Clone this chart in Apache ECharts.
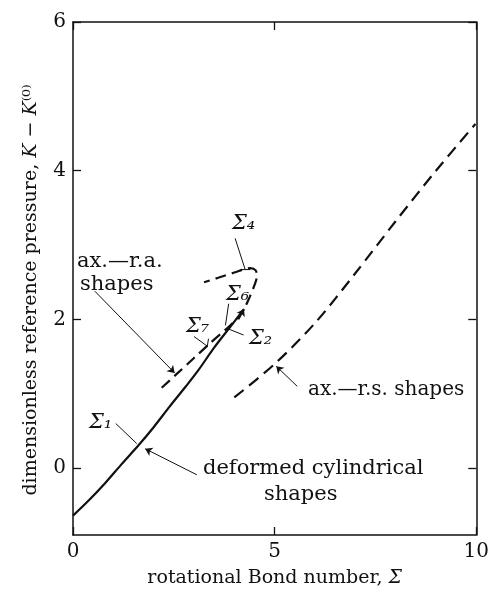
<!DOCTYPE html>
<html>
<head>
<meta charset="utf-8">
<script src="https://cdn.jsdelivr.net/npm/echarts@6/dist/echarts.min.js"></script>
<style>
  html, body { margin: 0; padding: 0; background: #fff; }
  #chart { width: 492px; height: 593px; }
</style>
</head>
<body>
<div id="chart"></div>
<script>
// Tick values
const xTicks = [0, 5, 10];
const yTicks = [0, 2, 4, 6];

// Deformed cylindrical shapes (solid branch), [Σ, K − K(0)]
const cylSigma = [0, 0.4, 0.8, 1.2, 1.63, 2.0, 2.4, 2.8, 3.1, 3.5, 3.9, 4.23];
const cylK     = [-0.64, -0.43, -0.2, 0.05, 0.31, 0.55, 0.83, 1.1, 1.31, 1.62, 1.9, 2.13];

// Axisymmetric – rotationally asymmetric shapes (dashed loop)
const raSigma = [2.2, 2.6, 3.0, 3.4, 3.82, 4.05, 4.23, 4.38, 4.5, 4.56, 4.53, 4.4, 4.0, 3.6, 3.25];
const raK     = [1.08, 1.28, 1.48, 1.68, 1.88, 2.0, 2.13, 2.3, 2.46, 2.58, 2.66, 2.69, 2.63, 2.56, 2.5];

// Axisymmetric – rotationally symmetric shapes (dashed right branch)
const rsSigma = [4.0, 5.0, 6.0, 7.0, 8.0, 9.0, 9.98];
const rsK     = [0.95, 1.4, 1.95, 2.62, 3.32, 4.0, 4.63];

const zip = (a, b) => a.map((v, i) => [v, b[i]]);

const FONT = '"DejaVu Serif", "Liberation Serif", serif';
const INK = '#111';

const chart = echarts.init(document.getElementById('chart'), null, { renderer: 'canvas' });

const tickStyle = { inside: true, length: 8, lineStyle: { color: INK, width: 1.3 } };
const axisLineStyle = { show: true, onZero: false, lineStyle: { color: INK, width: 1.5 } };
const tickLabel = { color: INK, fontFamily: FONT, fontSize: 20 };

chart.setOption({
  backgroundColor: '#fff',
  animation: false,
  grid: { left: 73, right: 8, top: 22, bottom: 50 },
  xAxis: [
    {
      type: 'value', min: 0, max: 10, position: 'bottom',
      axisLine: axisLineStyle,
      axisTick: Object.assign({ customValues: xTicks }, tickStyle),
      axisLabel: Object.assign({ customValues: xTicks, margin: 7 }, tickLabel),
      splitLine: { show: false },
      name: 'rotational Bond number, {i|Σ}',
      nameLocation: 'middle', nameGap: 34,
      nameTextStyle: { color: INK, fontFamily: FONT, fontSize: 19,
        rich: { i: { fontStyle: 'italic', fontFamily: FONT, fontSize: 19, color: INK } } }
    },
    {
      type: 'value', min: 0, max: 10, position: 'top',
      axisLine: axisLineStyle,
      axisTick: Object.assign({ customValues: xTicks }, tickStyle),
      axisLabel: { show: false },
      splitLine: { show: false }
    }
  ],
  yAxis: [
    {
      type: 'value', min: -0.9, max: 6, position: 'left',
      axisLine: axisLineStyle,
      axisTick: Object.assign({ customValues: yTicks }, tickStyle),
      axisLabel: Object.assign({ customValues: yTicks, margin: 7 }, tickLabel),
      splitLine: { show: false }
    },
    {
      type: 'value', min: -0.9, max: 6, position: 'right',
      axisLine: axisLineStyle,
      axisTick: Object.assign({ customValues: yTicks }, tickStyle),
      axisLabel: { show: false },
      splitLine: { show: false }
    }
  ],
  series: [
    {
      name: 'deformed cylindrical shapes', type: 'line', data: zip(cylSigma, cylK),
      smooth: 0.3, showSymbol: false, lineStyle: { color: INK, width: 2.2 }
    },
    {
      name: 'ax.–r.a. shapes', type: 'line', data: zip(raSigma, raK),
      smooth: 0.3, showSymbol: false, lineStyle: { color: INK, width: 2.2, type: [11, 6] }
    },
    {
      name: 'ax.–r.s. shapes', type: 'line', data: zip(rsSigma, rsK),
      smooth: 0.3, showSymbol: false, lineStyle: { color: INK, width: 2.2, type: [12, 7] }
    },
    {
      // leader arrows pointing at the branches
      type: 'lines', coordinateSystem: 'cartesian2d', polyline: false,
      symbol: ['none', 'arrow'], symbolSize: 7,
      lineStyle: { color: INK, width: 1, opacity: 1 },
      data: [
        { coords: [[0.54, 2.38], [2.52, 1.28]] },
        { coords: [[3.07, -0.09], [1.79, 0.26]] },
        { coords: [[5.56, 1.10], [5.04, 1.37]] },
        { coords: [[4.1, 2.0], [4.24, 2.14]], lineStyle: { width: 2 } }
      ]
    },
    {
      // plain leader lines for the Σ markers
      type: 'lines', coordinateSystem: 'cartesian2d', polyline: true,
      symbol: 'none',
      lineStyle: { color: INK, width: 1, opacity: 1 },
      data: [
        { coords: [[1.06, 0.60], [1.58, 0.33]] },
        { coords: [[4.02, 3.09], [4.27, 2.67]] },
        { coords: [[4.14, 2.67], [4.40, 2.67]] },
        { coords: [[3.86, 2.21], [3.78, 1.92]] },
        { coords: [[3.0, 1.77], [3.33, 1.64], [3.36, 1.74]] },
        { coords: [[4.23, 1.79], [3.86, 1.87]] }
      ]
    }
  ],
  graphic: [
    {
      type: 'text', x: 31, y: 290, rotation: Math.PI / 2,
      style: {
        text: 'dimensionless reference pressure, {i|K} − {i|K}⁽⁰⁾',
        font: '19px ' + FONT, fill: INK, align: 'center', verticalAlign: 'middle',
        rich: { i: { fontStyle: 'italic', fontFamily: FONT, fontSize: 19, fill: INK } }
      }
    },
    { type: 'text', left: 77, top: 251, style: { text: 'ax.—r.a.', font: '21px ' + FONT, fill: INK } },
    { type: 'text', left: 80, top: 274, style: { text: 'shapes', font: '21px ' + FONT, fill: INK } },
    { type: 'text', left: 89, top: 412, style: { text: 'Σ₁', font: 'italic 21px ' + FONT, fill: INK } },
    { type: 'text', left: 232, top: 213, style: { text: 'Σ₄', font: 'italic 21px ' + FONT, fill: INK } },
    { type: 'text', left: 226, top: 284, style: { text: 'Σ₆', font: 'italic 21px ' + FONT, fill: INK } },
    { type: 'text', left: 186, top: 316, style: { text: 'Σ₇', font: 'italic 21px ' + FONT, fill: INK } },
    { type: 'text', left: 249, top: 328, style: { text: 'Σ₂', font: 'italic 21px ' + FONT, fill: INK } },
    { type: 'text', left: 203, top: 458, style: { text: 'deformed cylindrical', font: '21px ' + FONT, fill: INK } },
    { type: 'text', left: 264, top: 484, style: { text: 'shapes', font: '21px ' + FONT, fill: INK } },
    { type: 'text', left: 308, top: 380, style: { text: 'ax.—r.s. shapes', font: '20px ' + FONT, fill: INK } }
  ]
});
</script>
</body>
</html>
